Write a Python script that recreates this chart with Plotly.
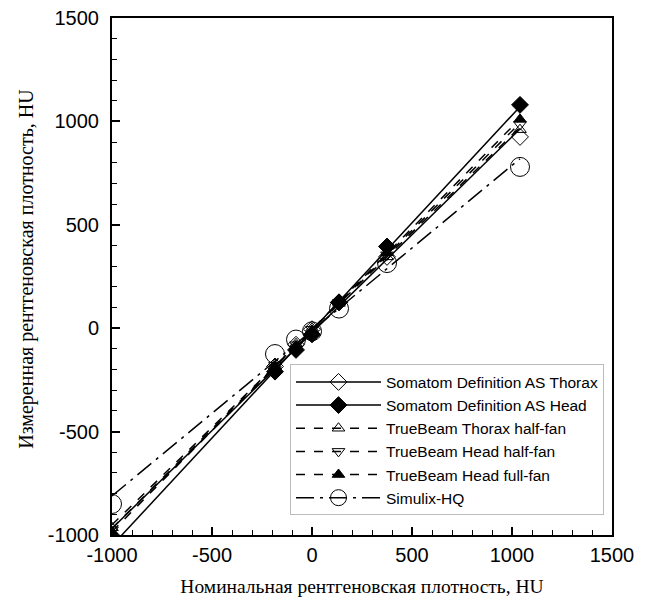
import numpy as np
import plotly.graph_objects as go

# nominal HU of the phantom inserts
nominal = [-1000, -185, -80, 0, 135, 375, 1040]

somatom_thorax = [-1005, -185, -80, -5, 125, 345, 925]
somatom_head = [-1035, -210, -105, -30, 125, 395, 1080]
tb_thorax_half = [-965, -175, -75, 0, 120, 345, 960]
tb_head_half = [-975, -180, -80, -5, 125, 355, 985]
tb_head_full = [-985, -185, -85, -10, 130, 365, 1010]
simulix = [-850, -125, -55, -15, 95, 315, 780]

tick_vals = [-1000, -500, 0, 500, 1000, 1500]
tick_text = ["-1000", "-500", "0", "500", "1000", "1500"]

series = [
	("Somatom Definition AS Thorax", somatom_thorax, "diamond-open", "solid", 13),
	("Somatom Definition AS Head", somatom_head, "diamond", "solid", 13),
	("TrueBeam Thorax half-fan", tb_thorax_half, "triangle-up-open", "dash", 11),
	("TrueBeam Head half-fan", tb_head_half, "triangle-down-open", "dash", 11),
	("TrueBeam Head full-fan", tb_head_full, "triangle-up", "dash", 11),
	("Simulix-HQ", simulix, "circle-open", "18px,6px,3px,6px", 19),
]

fig = go.Figure()
xfit = np.array([min(nominal), max(nominal)])
for name, yy, sym, dash, sz in series:
	ln = dict(color="black", width=1.5, dash=dash)
	mk = dict(symbol=sym, size=sz, color="black", line=dict(color="black", width=1))
	# straight linear fit through the points
	k, b = np.polyfit(nominal, yy, 1)
	fig.add_trace(go.Scatter(x=xfit, y=k * xfit + b, mode="lines", line=ln,
		showlegend=False, hoverinfo="skip"))
	fig.add_trace(go.Scatter(x=nominal, y=yy, mode="markers", marker=mk,
		name=name, showlegend=False))
	# legend-only entry showing line + marker
	fig.add_trace(go.Scatter(x=[None], y=[None], mode="lines+markers", line=ln,
		marker=mk, name=name))

axis_common = dict(range=[-1000, 1500], tickmode="array", tickvals=tick_vals,
	ticktext=tick_text, ticks="inside", ticklen=8, ticklabeloverflow="allow",
	tickwidth=1.5, tickcolor="black", showgrid=False, zeroline=False,
	showline=True, linecolor="black", linewidth=2, mirror=True, automargin=False,
	tickfont=dict(family="Liberation Sans, Arial", size=20, color="black"),
	minor=dict(tickmode="linear", tick0=-1000, dtick=100, ticks="inside",
		ticklen=5, tickcolor="black", tickwidth=1))

fig.update_xaxes(**axis_common, ticklabelstandoff=1,
	title=dict(text="Номинальная рентгеновская плотность, HU", standoff=14,
		font=dict(family="Liberation Serif, Times New Roman", size=19.5, color="black")))
fig.update_yaxes(**axis_common, ticklabelstandoff=7)

# y title as an annotation so it can sit close to the tick labels
fig.add_annotation(text="Измеренная рентгеновская плотность, HU", textangle=-90,
	xref="paper", yref="paper", x=0, y=0.515, xanchor="center", yanchor="middle",
	xshift=-85, showarrow=False,
	font=dict(family="Liberation Serif, Times New Roman", size=20, color="black"))

# page body has an 8px margin, so the figure is a bit smaller than the window
fig.update_layout(width=644, height=595, plot_bgcolor="white", paper_bgcolor="white",
	margin=dict(l=104, r=40, t=10, b=68),
	legend=dict(x=0.356, y=0.038, xanchor="left", yanchor="bottom",
		bgcolor="white", bordercolor="#bbbbbb", borderwidth=1, itemwidth=85,
		font=dict(family="Liberation Sans, Arial", size=15.5, color="black"),
		tracegroupgap=0))

fig.write_html("out.html")
